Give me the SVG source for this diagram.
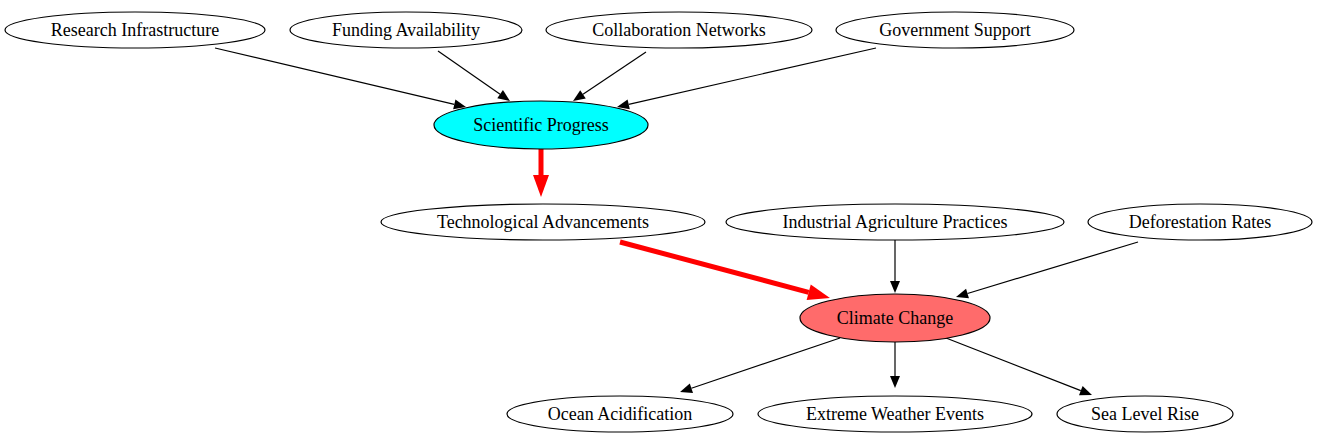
<svg xmlns="http://www.w3.org/2000/svg" width="1318" height="443" viewBox="0 0 1318 443">
<style>
.n ellipse{fill:#fff;stroke:#000;stroke-width:1.2}
.n text{font-family:"Liberation Serif","Times New Roman",serif;font-size:18px;text-anchor:middle;fill:#000}
.e{stroke:#000;stroke-width:1.2;fill:none;marker-end:url(#ah)}
.r{stroke:#f00;stroke-width:5;fill:none;marker-end:url(#rh)}
</style>
<defs>
<marker id="ah" markerUnits="userSpaceOnUse" markerWidth="14" markerHeight="11" refX="0" refY="5" orient="auto" overflow="visible"><path d="M0,0 L12,5 L0,10 z" fill="#000"/></marker>
<marker id="rh" markerUnits="userSpaceOnUse" markerWidth="22" markerHeight="18" refX="0" refY="8" orient="auto" overflow="visible"><path d="M0,0 L22,8 L0,16 z" fill="#f00"/></marker>
</defs>
<rect width="1318" height="443" fill="#fff"/>
<g id="edges">
<line class="e" x1="215" y1="48" x2="454.3" y2="104.3"/>
<line class="e" x1="438" y1="51" x2="500.1" y2="94.2"/>
<line class="e" x1="646" y1="52" x2="583" y2="94.3"/>
<line class="e" x1="876" y1="48" x2="628.7" y2="104.3"/>
<line class="r" x1="541" y1="149" x2="541" y2="175"/>
<line class="r" x1="620" y1="242" x2="808.7" y2="292.3"/>
<line class="e" x1="895" y1="240" x2="895" y2="281"/>
<line class="e" x1="1138" y1="242" x2="967.5" y2="293.5"/>
<line class="e" x1="840" y1="338" x2="691.4" y2="388.2"/>
<line class="e" x1="895" y1="342" x2="895" y2="376"/>
<line class="e" x1="946" y1="338" x2="1080.8" y2="390.6"/>
</g>
<g id="research" class="n"><ellipse cx="135" cy="30" rx="130" ry="18"/><text x="135" y="36">Research Infrastructure</text></g>
<g id="funding" class="n"><ellipse cx="406" cy="30" rx="116" ry="18"/><text x="406" y="36">Funding Availability</text></g>
<g id="collab" class="n"><ellipse cx="679" cy="30" rx="133" ry="18"/><text x="679" y="36">Collaboration Networks</text></g>
<g id="gov" class="n"><ellipse cx="955" cy="30" rx="119" ry="18"/><text x="955" y="36">Government Support</text></g>
<g id="sci" class="n"><ellipse cx="541" cy="125" rx="107" ry="24" style="fill:#00ffff"/><text x="541" y="131">Scientific Progress</text></g>
<g id="tech" class="n"><ellipse cx="543" cy="222" rx="162" ry="18"/><text x="543" y="228">Technological Advancements</text></g>
<g id="agri" class="n"><ellipse cx="895" cy="222" rx="169" ry="18"/><text x="895" y="228">Industrial Agriculture Practices</text></g>
<g id="defor" class="n"><ellipse cx="1200" cy="222" rx="112" ry="18"/><text x="1200" y="228">Deforestation Rates</text></g>
<g id="climate" class="n"><ellipse cx="895" cy="318" rx="95" ry="24" style="fill:#ff6b6b"/><text x="895" y="324">Climate Change</text></g>
<g id="ocean" class="n"><ellipse cx="620" cy="414" rx="113" ry="18"/><text x="620" y="420">Ocean Acidification</text></g>
<g id="weather" class="n"><ellipse cx="895" cy="414" rx="137" ry="18"/><text x="895" y="420">Extreme Weather Events</text></g>
<g id="sea" class="n"><ellipse cx="1145" cy="414" rx="88" ry="18"/><text x="1145" y="420">Sea Level Rise</text></g>
</svg>
